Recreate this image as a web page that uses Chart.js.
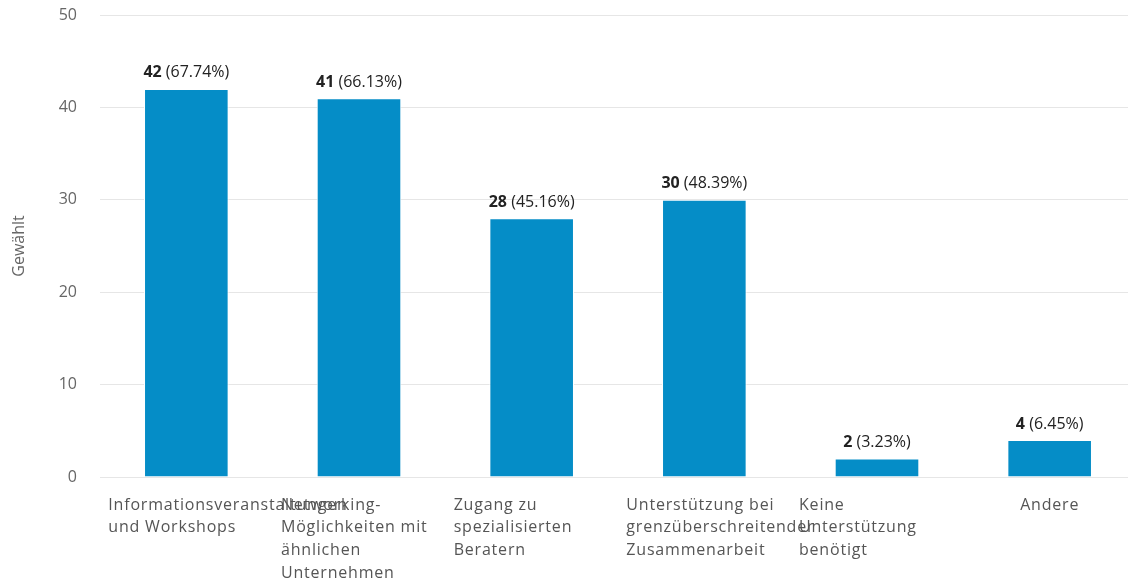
<!DOCTYPE html>
<html>
<head>
<meta charset="utf-8">
<script src="https://cdn.jsdelivr.net/npm/chart.js@4.4.1/dist/chart.umd.min.js"></script>
<style>
  html, body { margin: 0; padding: 0; background: #fff; overflow: hidden; }
  #wrap { width: 1136px; height: 582px; }
</style>
</head>
<body>
<div id="wrap"><canvas id="barChart"></canvas></div>
<script>
// chart data
const categories = [
  ['Informationsveranstaltungen', 'und Workshops'],
  ['Networking-', 'Möglichkeiten mit', 'ähnlichen', 'Unternehmen'],
  ['Zugang zu', 'spezialisierten', 'Beratern'],
  ['Unterstützung bei', 'grenzüberschreitender', 'Zusammenarbeit'],
  ['Keine', 'Unterstützung', 'benötigt'],
  ['Andere']
];
const votes = [42, 41, 28, 30, 2, 4];
const shares = ['67.74', '66.13', '45.16', '48.39', '3.23', '6.45'];
const yTicks = [0, 10, 20, 30, 40, 50];

const FONT = '"Open Sans", "DejaVu Sans", sans-serif';

// value labels like "42 (67.74%)" above each bar, number in bold
const valueLabels = {
  id: 'valueLabels',
  afterDatasetsDraw(chart) {
    const ctx = chart.ctx;
    const meta = chart.getDatasetMeta(0);
    ctx.save();
    ctx.textBaseline = 'middle';
    ctx.textAlign = 'left';
    ctx.fillStyle = '#222';
    meta.data.forEach((bar, i) => {
      const bold = String(votes[i]);
      const rest = ' (' + shares[i] + '%)';
      ctx.font = 'bold 16px ' + FONT;
      const w1 = ctx.measureText(bold).width;
      ctx.font = '16px ' + FONT;
      const w2 = ctx.measureText(rest).width;
      let x = bar.x - (w1 + w2) / 2;
      const y = bar.y - 16;
      ctx.font = 'bold 16px ' + FONT;
      ctx.fillText(bold, x, y);
      ctx.font = '16px ' + FONT;
      ctx.fillText(rest, x + w1, y);
    });
    ctx.restore();
  }
};

// category labels: wrapped ones left aligned in a fixed box, single ones centred
const categoryLabels = {
  id: 'categoryLabels',
  afterDraw(chart) {
    const ctx = chart.ctx;
    const xScale = chart.scales.x;
    ctx.save();
    ctx.font = '16px ' + FONT;
    ctx.letterSpacing = '0.8px';
    ctx.fillStyle = '#555';
    ctx.textBaseline = 'middle';
    categories.forEach((lines, i) => {
      const cx = xScale.getPixelForValue(i);
      lines.forEach((line, j) => {
        const y = xScale.top + 28 + j * 22.7;
        if (lines.length > 1) {
          ctx.textAlign = 'left';
          ctx.fillText(line, cx - 78, y);
        } else {
          ctx.textAlign = 'center';
          ctx.fillText(line, cx, y);
        }
      });
    });
    ctx.restore();
  }
};

new Chart(document.getElementById('barChart'), {
  type: 'bar',
  data: {
    labels: categories.map(l => l.join(' ')),
    datasets: [{
      label: 'Gewählt',
      data: votes,
      backgroundColor: '#058DC7',
      borderColor: '#ffffff',
      borderWidth: 1,
      barPercentage: 0.49,
      categoryPercentage: 1
    }]
  },
  options: {
    responsive: true,
    maintainAspectRatio: false,
    animation: false,
    layout: { padding: { top: 15, left: 0, right: 0, bottom: 0 } },
    plugins: {
      legend: { display: false },
      tooltip: { enabled: false }
    },
    scales: {
      x: {
        ticks: { display: false },
        grid: { display: false },
        border: { display: false },
        afterFit(scale) { scale.height = 105; }
      },
      y: {
        min: 0,
        max: yTicks[yTicks.length - 1],
        afterBuildTicks(scale) { scale.ticks = yTicks.map(v => ({ value: v })); },
        ticks: {
          color: '#666',
          padding: 23,
          font: { family: FONT, size: 16 }
        },
        grid: { color: '#e6e6e6', lineWidth: 1, drawTicks: false },
        border: { display: false },
        title: {
          display: true,
          text: 'Gewählt',
          color: '#666',
          padding: { top: 10, bottom: 0 },
          font: { family: FONT, size: 16 }
        },
        afterFit(scale) {
          scale.width = 100;
          scale.paddingTop = 0;
          scale.paddingBottom = 0;
        }
      }
    }
  },
  plugins: [valueLabels, categoryLabels]
});
</script>
</body>
</html>
